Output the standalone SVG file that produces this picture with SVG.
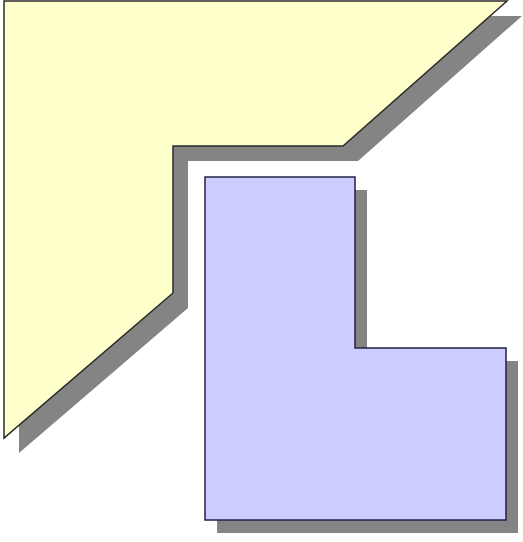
<svg xmlns="http://www.w3.org/2000/svg" width="523" height="542" viewBox="0 0 523 542">
<style>
.shadow{fill:#848484;stroke:none}
.yellow{fill:#FFFFCC;stroke:#2a2a2a;stroke-width:1.5}
.blue{fill:#CCCCFF;stroke:#222244;stroke-width:1.5}
</style>
<rect width="523" height="542" fill="#ffffff"/>
<g id="yellow-shape">
<polygon class="shadow" points="19,16 522,16 358,161 188,161 188,308 19,453"/>
<polygon class="yellow" points="4,1 507,1 343,146 173,146 173,293 4,438"/>
</g>
<g id="blue-shape">
<polygon class="shadow" points="217,190 367,190 367,361 518,361 518,533 217,533"/>
<polygon class="blue" points="205,177 355,177 355,348 506,348 506,520 205,520"/>
</g>
</svg>
